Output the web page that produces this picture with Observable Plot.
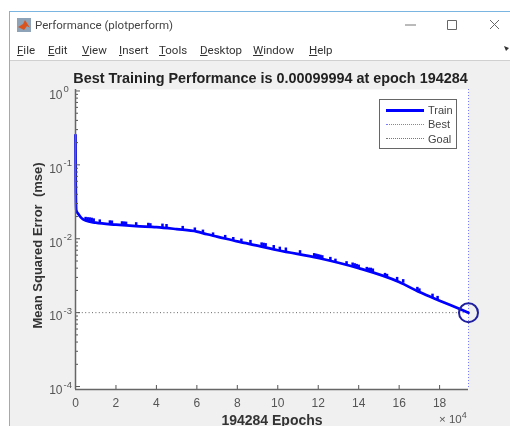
<!DOCTYPE html>
<html><head><meta charset="utf-8">
<script src="https://cdn.jsdelivr.net/npm/d3@7"></script>
<script src="https://cdn.jsdelivr.net/npm/@observablehq/plot@0.6"></script>
<style>
html,body{margin:0;padding:0;background:#fff;width:510px;height:426px;overflow:hidden}
#win{position:absolute;left:0;top:0;width:510px;height:426px;overflow:hidden;filter:blur(.5px);font-family:Roboto,"Noto Sans",sans-serif}
#gray{position:absolute;left:10px;top:61px;right:0;bottom:0;background:#f0f0f0}
#bord{position:absolute;left:9px;top:11px;right:-2px;bottom:-2px;border:1px solid #7ab4e0}
#sep{position:absolute;left:10px;right:0;top:60px;height:1px;background:#d0d0d0}
#cap{position:absolute;left:35px;top:18px;font-size:11.5px;color:#444;white-space:nowrap}
.m{position:absolute;top:43px;font-size:11.5px;color:#333;white-space:nowrap}
.m u{text-underline-offset:1px}
#plotHolder{position:absolute;left:0;top:0}
#title{position:absolute;left:0;width:541px;top:70px;text-align:center;font:bold 14.4px "Liberation Sans",Arial,sans-serif;color:#222;white-space:nowrap}
#legend{position:absolute;left:379px;top:99px;width:76px;height:48px;background:#fff;border:1px solid #666;font:11px "Liberation Sans",Arial,sans-serif;color:#444}
#legend span{position:absolute;left:48px}
#legend i{position:absolute;left:6px;width:38px;display:block}
#xexp{position:absolute;left:439px;top:413px;font:11.5px "Liberation Sans",Arial,sans-serif;color:#555;white-space:nowrap}
#xexp sup{font-size:9px;line-height:0}
</style></head><body>
<div id="win">
<div id="gray"></div><div id="bord"></div><div id="sep"></div>
<svg style="position:absolute;left:17px;top:18px" width="14" height="14"><rect width="14" height="14" fill="#8fa3b8"/><path d="M1 9 L6 6 L8 2 L13 10 L10 8 L7 12 Z" fill="#d9531e"/></svg>
<div id="cap">Performance (plotperform)</div>
<svg style="position:absolute;left:400px;top:18px" width="105" height="14"><path d="M5 7H16" stroke="#777"/><path d="M47.5 2.5h9v9h-9z" fill="none" stroke="#666"/><path d="M90 2L99 11M99 2L90 11" stroke="#666"/></svg>
<svg style="position:absolute;left:504px;top:46px" width="6" height="6"><path d="M0 0L5 2L2 5Z" fill="#333"/></svg>
<div id="menu"></div>
<div id="plotHolder"></div>
<div id="title">Best Training Performance is 0.00099994 at epoch 194284</div>
<div id="legend">
<i style="top:9px;height:3px;background:#0000ff"></i><span style="top:4px">Train</span>
<i style="top:24px;border-top:1px dotted #7a7aff"></i><span style="top:18px">Best</span>
<i style="top:38px;border-top:1px dotted #777"></i><span style="top:33px">Goal</span>
</div>
<div id="xexp">× 10<sup>4</sup></div>
</div>
<script>
const menuLabels = ["File","Edit","View","Insert","Tools","Desktop","Window","Help"];
const menuLeft = [17,48,82,119,159,200,253,309];

const epochs = [0,0.01,0.04,0.15,0.3,0.5,1,2,3,4,5,6,6.5,7,8,9.15,10,12,14,16,17,18,19,19.4284];
const mse = [0.253,0.06,0.0243,0.0215,0.019,0.0176,0.0165,0.0155,0.0148,0.0144,0.0135,0.0125,0.0115,0.0107,0.0092,0.0079,0.007,0.0055,0.004,0.0026,0.0019,0.00145,0.00112,0.00099994];

const spikeEpochs = [0.5,0.6,0.7,0.8,0.9,1.2,1.7,1.8,2.3,2.4,2.5,3,3.6,3.7,4.3,4.5,5.3,5.9,6.3,6.8,7.4,7.8,8.2,8.65,9.2,9.3,9.4,9.8,10.1,10.4,11.1,11.8,11.9,12,12.1,12.2,12.6,12.85,13.4,13.7,13.8,13.9,14,14.4,14.5,14.6,14.7,15.3,15.4,15.9,16.2,16.9,17,17.65,17.9];
const spikeLow = [0.0176,0.0174,0.0172,0.017,0.0167,0.0163,0.0158,0.0157,0.0153,0.0152,0.0151,0.0148,0.0146,0.0145,0.0141,0.0139,0.0132,0.0126,0.0119,0.011,0.0101,0.0095,0.009,0.0086,0.0079,0.0078,0.0077,0.0073,0.0069,0.0067,0.0062,0.0056,0.0056,0.0055,0.0054,0.0053,0.005,0.0048,0.0044,0.0042,0.0041,0.0041,0.004,0.0037,0.0036,0.0036,0.0035,0.003,0.003,0.0027,0.0025,0.002,0.0019,0.0016,0.0015];
const spikeHigh = [0.0195,0.0193,0.0192,0.019,0.0186,0.018,0.0175,0.0174,0.017,0.0169,0.0168,0.0165,0.0162,0.016,0.0158,0.0156,0.0147,0.014,0.0131,0.012,0.0111,0.0104,0.0099,0.0095,0.0088,0.0087,0.0086,0.0081,0.0077,0.0075,0.0069,0.0063,0.0062,0.0061,0.006,0.0059,0.0056,0.0053,0.0049,0.0047,0.0046,0.0045,0.0044,0.0041,0.004,0.004,0.0039,0.0034,0.0033,0.003,0.0028,0.0022,0.0021,0.00178,0.00166];

const bestEpoch = 19.4284, bestMse = 0.00099994, goal = 0.001;
const xTicks = [0,2,4,6,8,10,12,14,16,18];
const yExponents = [0,-1,-2,-3,-4];
const minorDigits = [2,3,4,5,6,7,8,9];

const majors = yExponents.map(e => 10 ** e);
const minors = yExponents.slice(1).flatMap(e => minorDigits.map(d => d * 10 ** e));
const curve = epochs.map((x,i) => ({x, y: mse[i]}));
const spikes = spikeEpochs.map((x,i) => ({x, y1: spikeLow[i], y2: spikeHigh[i]}));
const labels = yExponents.map(e => ({y: 10 ** e, e}));
const ink = "#555";

menuLabels.forEach((t,i) => {
  const d = document.createElement("div");
  d.className = "m"; d.style.left = menuLeft[i] + "px";
  d.innerHTML = "<u>" + t[0] + "</u>" + t.slice(1);
  document.getElementById("menu").appendChild(d);
});

const plot = Plot.plot({
  width: 510, height: 426,
  marginLeft: 75, marginRight: 42, marginTop: 89, marginBottom: 37,
  style: {background: "transparent", fontFamily: "'Liberation Sans',Arial,sans-serif"},
  x: {domain: [0, bestEpoch]},
  y: {type: "log", domain: [10 ** -4.04, 10 ** 0.02]},
  marks: [
    Plot.frame({fill: "#fff", stroke: "none"}),
    Plot.ruleX([bestEpoch], {stroke: "#7a7aff", strokeWidth: 1, strokeDasharray: "1,2"}),
    Plot.ruleY([goal], {x1: 0, x2: bestEpoch, stroke: "#666", strokeWidth: 1, strokeDasharray: "1,2.4"}),
    Plot.line(curve, {x: "x", y: "y", stroke: "#0000ff", strokeWidth: 2.7, curve: "monotone-x"}),
    Plot.ruleX(spikes, {x: "x", y1: "y1", y2: "y2", stroke: "#0000ff", strokeWidth: 2.5}),
    Plot.dot([{x: bestEpoch, y: bestMse}], {x: "x", y: "y", r: 9.5, stroke: "#1f1fa0", strokeWidth: 2, fill: "none"}),
    Plot.axisX(xTicks, {anchor: "bottom", tickSize: -4, tickPadding: 13, stroke: "#555", color: ink, fontSize: 12,
      tickFormat: d => d, label: "194284 Epochs", labelAnchor: "center", labelArrow: "none", labelOffset: 35}),
    Plot.axisY(majors, {anchor: "left", tickSize: -5, tickPadding: 0, stroke: "#555", tickFormat: () => "",
      label: "Mean Squared Error  (mse)", labelAnchor: "center", labelArrow: "none", labelOffset: 43}),
    Plot.axisY(minors, {anchor: "left", tickSize: -3, tickPadding: 0, stroke: "#555", tickFormat: () => "", label: null}),
    Plot.ruleX([0], {stroke: "#666", strokeWidth: 1.5}),
    Plot.ruleY([10 ** -4.04], {stroke: "#666", strokeWidth: 1.5}),
    Plot.text(labels, {x: 0, y: "y", text: () => "10", textAnchor: "end", dx: -13, dy: 4, fontSize: 12, fill: ink}),
    Plot.text(labels, {x: 0, y: "y", text: d => d.e === 0 ? "0" : "-" + (-d.e), textAnchor: "start", dx: -12, dy: -2, fontSize: 9.5, fill: ink})
  ]
});
document.getElementById("plotHolder").appendChild(plot);
plot.querySelectorAll('[aria-label="x-axis label"] text').forEach(t => {
  t.style.fontWeight = "bold"; t.style.fontSize = "14px"; t.style.fill = "#333";
});
plot.querySelectorAll('[aria-label="y-axis label"]').forEach(g => {
  g.setAttribute("transform", (g.getAttribute("transform") || "") + " translate(0,6)");
  g.querySelectorAll("text").forEach(t => { t.style.fontWeight = "bold"; t.style.fontSize = "13px"; t.style.fill = "#333"; });
});
</script>
</body></html>
